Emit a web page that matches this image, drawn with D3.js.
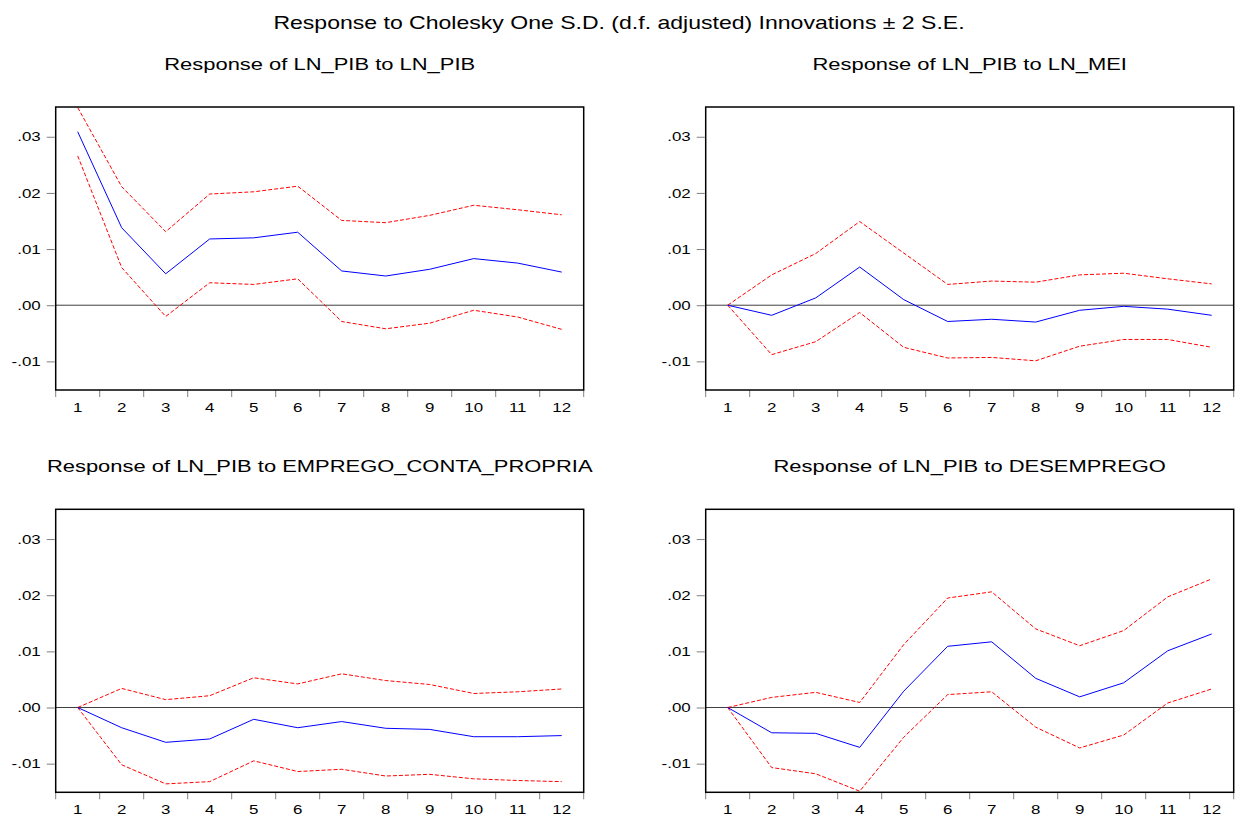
<!DOCTYPE html>
<html>
<head>
<meta charset="utf-8">
<script src="https://cdn.jsdelivr.net/npm/d3@7"></script>
<style>
    body { margin: 0; background: #fff; }
    svg { display: block; font-family: Arial, "Liberation Sans", sans-serif; }
</style>
</head>
<body>
<svg id="chart" width="1238" height="819"></svg>
<script>
'use strict';

// impulse horizon
const periods = [1, 2, 3, 4, 5, 6, 7, 8, 9, 10, 11, 12];
const yTicks = [-0.01, 0.00, 0.01, 0.02, 0.03];

const mainTitle = 'Response to Cholesky One S.D. (d.f. adjusted) Innovations \u00b1 2 S.E.';
const panelTitles = [
    'Response of LN_PIB to LN_PIB',
    'Response of LN_PIB to LN_MEI',
    'Response of LN_PIB to EMPREGO_CONTA_PROPRIA',
    'Response of LN_PIB to DESEMPREGO'
];

// LN_PIB -> LN_PIB
const pibResp  = [0.0309, 0.0138, 0.0056, 0.0118, 0.0120, 0.0130, 0.0061, 0.0052, 0.0064, 0.0083, 0.0075, 0.0059];
const pibUpper = [0.0352, 0.0211, 0.0131, 0.0198, 0.0202, 0.0212, 0.0151, 0.0147, 0.0160, 0.0178, 0.0170, 0.0161];
const pibLower = [0.0266, 0.0067, -0.0020, 0.0040, 0.0037, 0.0047, -0.0029, -0.0042, -0.0032, -0.0009, -0.0021, -0.0043];

// LN_PIB -> LN_MEI
const meiResp  = [0, -0.0018, 0.0013, 0.0068, 0.0010, -0.0029, -0.0025, -0.0030, -0.0009, -0.0002, -0.0007, -0.0018];
const meiUpper = [0, 0.0054, 0.0092, 0.0149, 0.0093, 0.0037, 0.0043, 0.0041, 0.0054, 0.0057, 0.0047, 0.0038];
const meiLower = [0, -0.0088, -0.0065, -0.0013, -0.0075, -0.0094, -0.0093, -0.0099, -0.0073, -0.0061, -0.0061, -0.0075];

// LN_PIB -> EMPREGO_CONTA_PROPRIA
const ecpResp  = [0, -0.0036, -0.0062, -0.0056, -0.0021, -0.0036, -0.0025, -0.0037, -0.0039, -0.0052, -0.0052, -0.0050];
const ecpUpper = [0, 0.0034, 0.0014, 0.0021, 0.0053, 0.0042, 0.0060, 0.0048, 0.0041, 0.0025, 0.0028, 0.0033];
const ecpLower = [0, -0.0102, -0.0136, -0.0132, -0.0095, -0.0114, -0.0110, -0.0122, -0.0119, -0.0127, -0.0130, -0.0132];

// LN_PIB -> DESEMPREGO
const desResp  = [0, -0.0045, -0.0046, -0.0071, 0.0029, 0.0109, 0.0117, 0.0052, 0.0019, 0.0044, 0.0101, 0.0131];
const desUpper = [0, 0.0018, 0.0027, 0.0009, 0.0112, 0.0195, 0.0206, 0.0140, 0.0110, 0.0137, 0.0197, 0.0229];
const desLower = [0, -0.0107, -0.0118, -0.0149, -0.0053, 0.0023, 0.0028, -0.0035, -0.0072, -0.0049, 0.0008, 0.0033];

const panels = [
    { title: panelTitles[0], resp: pibResp, upper: pibUpper, lower: pibLower, x: 55.7,  y: 107 },
    { title: panelTitles[1], resp: meiResp, upper: meiUpper, lower: meiLower, x: 705.7, y: 107 },
    { title: panelTitles[2], resp: ecpResp, upper: ecpUpper, lower: ecpLower, x: 55.7,  y: 509.3 },
    { title: panelTitles[3], resp: desResp, upper: desUpper, lower: desLower, x: 705.7, y: 509.3 }
];

const panelW = 528;
const panelH = 283;
const stretch = 1.29;   // the source text is drawn wide

const svg = d3.select('#chart');

// widen a text node horizontally, like the original export
const widen = (sel, k) => sel.each(function(){
    const len = this.getComputedTextLength();
    d3.select(this)
        .attr('textLength', len * k)
        .attr('lengthAdjust', 'spacingAndGlyphs');
});

svg.append('text')
    .attr('x', 619)
    .attr('y', 28.5)
    .attr('text-anchor', 'middle')
    .attr('font-size', 18.5)
    .attr('fill', '#000')
    .text(mainTitle)
    .call(widen, 1.245);

const fmt = v => {
    const s = d3.format('.2f')(v);
    return s.replace('0.', '.').replace('−', '-');
};

panels.forEach((p, idx) => {
    const g = svg.append('g')
        .attr('transform', `translate(${p.x}, ${p.y})`);

    const x = d3.scaleBand()
        .domain(periods)
        .range([0, panelW])
        .padding(0);

    const y = d3.scaleLinear()
        .domain([-0.0151, 0.0353])
        .range([panelH, 0]);

    const cx = d => x(d) + x.bandwidth() / 2;

    g.append('text')
        .attr('x', panelW / 2)
        .attr('y', -37.5)
        .attr('text-anchor', 'middle')
        .attr('font-size', 17)
        .attr('fill', '#000')
        .text(p.title)
        .call(widen, stretch);

    // y axis: ticks outside to the left
    const yAxis = g.append('g')
        .call(d3.axisLeft(y).tickValues(yTicks).tickSize(9).tickPadding(6).tickFormat(fmt));
    yAxis.select('.domain').remove();
    yAxis.selectAll('line')
        .attr('stroke', '#808080')
        .attr('x2', -9)
        .attr('x1', -1);
    yAxis.selectAll('text')
        .attr('font-size', 13)
        .attr('font-family', 'Arial, "Liberation Sans", sans-serif')
        .attr('fill', '#000')
        .call(widen, 1.3);

    // x axis: ticks at band edges, labels at centers
    const edges = periods.map(d => x(d)).concat([panelW]);
    const xAxis = g.append('g')
        .attr('transform', `translate(0, ${panelH})`);
    xAxis.selectAll('line.tick')
        .data(edges)
        .join('line')
        .attr('class', 'tick')
        .attr('x1', d => d)
        .attr('x2', d => d)
        .attr('y1', 0)
        .attr('y2', 7)
        .attr('stroke', '#808080');
    xAxis.selectAll('text')
        .data(periods)
        .join('text')
        .attr('x', cx)
        .attr('y', 22)
        .attr('text-anchor', 'middle')
        .attr('font-size', 13)
        .attr('fill', '#000')
        .text(d => d)
        .call(widen, 1.3);

    const clipId = `clip-${idx}`;
    g.append('clipPath')
        .attr('id', clipId)
        .append('rect')
        .attr('width', panelW)
        .attr('height', panelH);

    const plot = g.append('g')
        .attr('clip-path', `url(#${clipId})`);

    plot.append('line')
        .attr('x1', 0)
        .attr('x2', panelW)
        .attr('y1', y(0))
        .attr('y2', y(0))
        .attr('stroke', '#404040')
        .attr('stroke-width', 1);

    const line = d3.line()
        .x((d, i) => cx(periods[i]))
        .y(d => y(d));

    [p.upper, p.lower].forEach(band => {
        plot.append('path')
            .attr('d', line(band))
            .attr('fill', 'none')
            .attr('stroke', '#ff0000')
            .attr('stroke-width', 1)
            .attr('stroke-dasharray', '4,2');
    });

    plot.append('path')
        .attr('d', line(p.resp))
        .attr('fill', 'none')
        .attr('stroke', '#0000ff')
        .attr('stroke-width', 1);

    g.append('rect')
        .attr('width', panelW)
        .attr('height', panelH)
        .attr('fill', 'none')
        .attr('stroke', '#000')
        .attr('stroke-width', 1.5);
});
</script>
</body>
</html>
